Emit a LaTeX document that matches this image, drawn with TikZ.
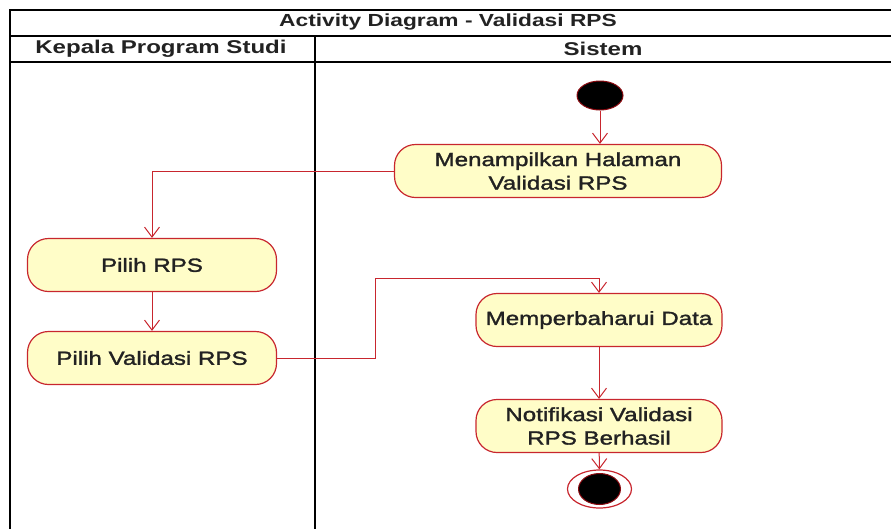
\documentclass[tikz,border=0pt]{standalone}
\usepackage{fontspec}
\setmainfont{Liberation Sans}[FakeStretch=1.3]
\newfontfamily\actionfont{Liberation Sans}[FakeStretch=1.27, FakeBold=1.6]
\usetikzlibrary{arrows.meta,shapes.geometric}
\definecolor{actred}{HTML}{C8262E}
\definecolor{actfill}{HTML}{FFFDC8}
\definecolor{nodeedge}{HTML}{8A0A10}
\definecolor{inktext}{HTML}{222222}
\begin{document}
\begin{tikzpicture}[x=1pt,y=-1pt,
  lane/.style={draw=black, line width=1.3pt},
  hdr/.style={font=\fontsize{18.5}{21}\selectfont\bfseries, text=inktext, inner sep=0pt},
  action/.style={draw=actred, fill=actfill, line width=1.2pt, rounded corners=21pt,
    minimum height=53pt, align=center, text=inktext,
    font=\actionfont\fontsize{19}{23.5}\selectfont, inner sep=0pt},
  flow/.style={draw=actred, line width=1pt, -{Straight Barb[length=10pt,width=15pt]}},
  dot/.style={ellipse, fill=black, draw=nodeedge, line width=1pt, inner sep=0pt},
]
\useasboundingbox (0,0) rectangle (891,528);
\begin{scope}
\clip (0,0) rectangle (891,528);
% swimlane frame
\draw[lane] (10,10) rectangle (900,540);
\draw[lane] (10,36) -- (900,36);
\draw[lane] (10,62) -- (900,62);
\draw[lane] (315,36) -- (315,540);
\end{scope}

\node[hdr, font=\fontsize{17.5}{21}\selectfont\bfseries] (title) at (448,22) {Activity Diagram - Validasi RPS};
\node[hdr] (laneA) at (161,49) {Kepala Program Studi};
\node[hdr] (laneB) at (603,49) {Sistem};

% activity nodes
\node[dot, minimum width=46pt, minimum height=29pt] (start) at (600,95.5) {};
\node[action, minimum width=327pt] (a1) at (558,171) {Menampilkan Halaman\\Validasi RPS};
\node[action, minimum width=249pt] (a2) at (152,265) {Pilih RPS};
\node[action, minimum width=249pt] (a3) at (152,358) {Pilih Validasi RPS};
\node[action, minimum width=246pt] (a4) at (599,320) {Memperbaharui Data};
\node[action, minimum width=246pt] (a5) at (599,426) {Notifikasi Validasi\\RPS Berhasil};
\node[ellipse, draw=actred, fill=white, line width=1.2pt, minimum width=64pt, minimum height=38pt, inner sep=0pt] (end) at (599.5,489) {};
\node[dot, minimum width=42pt, minimum height=31pt] (endcore) at (end.center) {};

\coordinate (bend) at (375,278);

% control flows
\draw[flow] (start) -- (start |- a1.north);
\draw[flow] (a1.west) -| (a2.north);
\draw[flow] (a2) -- (a3);
\draw[flow] (a3.east) -| (bend) -| (a4.north);
\draw[flow] (a4) -- (a5);
\draw[flow] (a5) -- (end);
\end{tikzpicture}
\end{document}
